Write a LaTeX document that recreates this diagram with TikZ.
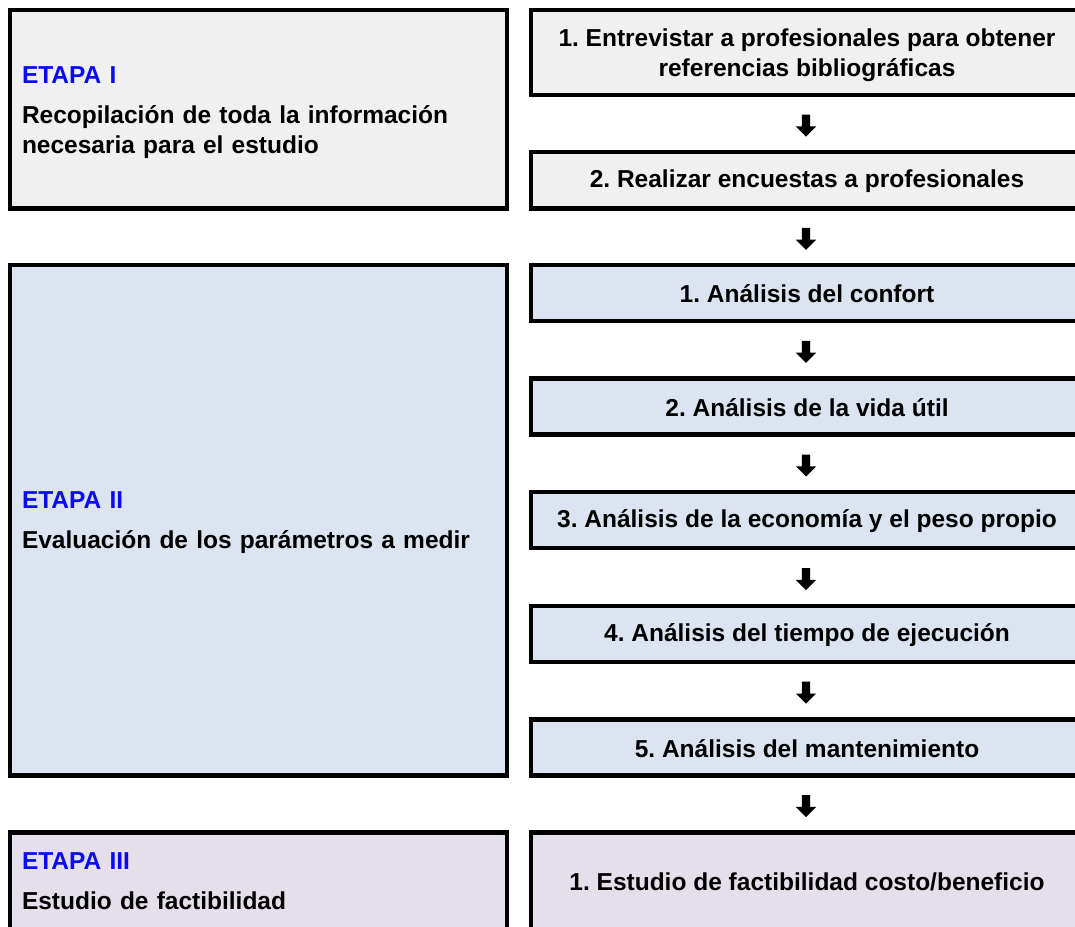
\documentclass[tikz,border=0pt]{standalone}
\usepackage{fontspec}
\setmainfont{Liberation Sans}
\usetikzlibrary{shapes.arrows}
\definecolor{fillI}{HTML}{F0F0F0}
\definecolor{fillII}{HTML}{DBE4F0}
\definecolor{fillIII}{HTML}{E4DFEB}
\definecolor{etapa}{HTML}{0A0AF5}
\frenchspacing
\tikzset{
  box/.style={draw=black, line width=4.5pt, rectangle, inner sep=0pt},
  txt/.style={inner sep=0pt, font=\bfseries\fontsize{24.5}{30}\selectfont},
  leftbox/.style={box, minimum width=497pt},
  rightbox/.style={box, minimum width=552pt},
  lefttxt/.style={txt, text width=473pt, align=left},
  righttxt/.style={txt, align=center},
  darr/.style={single arrow, fill=black, draw=none, shape border rotate=270,
    minimum height=22pt, inner sep=4pt, single arrow head extend=6pt,
    single arrow tip angle=90}
}
\begin{document}
\begin{tikzpicture}[x=1pt,y=-1pt]
\path[use as bounding box] (0,0) rectangle (1075,926);
\clip (0,0) rectangle (1075,926);
% left stage boxes
\node[leftbox, fill=fillI, minimum height=198.5pt] (s1) at (258.5,109.25) {};
\node[lefttxt] (s1t) at ([yshift=-3pt]s1.center)
  {{\color{etapa}ETAPA I}\\[10pt]Recopilación de toda la información\\necesaria para el estudio};
\node[leftbox, fill=fillII, minimum height=510.5pt] (s2) at (258.5,520.25) {};
\node[lefttxt] (s2t) at ([yshift=-2pt]s2.center)
  {{\color{etapa}ETAPA II}\\[10pt]Evaluación de los parámetros a medir};
\node[leftbox, fill=fillIII, minimum height=97.5pt] (s3) at (258.5,881.25) {};
\node[lefttxt] (s3t) at ([yshift=0pt]s3.center)
  {{\color{etapa}ETAPA III}\\[10pt]Estudio de factibilidad};
% right step boxes
\node[rightbox, fill=fillI, minimum height=85pt] (r1) at (807,52.5) {};
\node[righttxt] (r1t) at ([yshift=-3pt]r1.center)
  {1. Entrevistar a profesionales para obtener\\referencias bibliográficas};
\node[rightbox, fill=fillI, minimum height=56.5pt] (r2) at (807,180.25) {};
\node[righttxt] (r2t) at ([yshift=-1pt]r2.center) {2. Realizar encuestas a profesionales};
\node[rightbox, fill=fillII, minimum height=56pt] (r3) at (807,293) {};
\node[righttxt] (r3t) at ([yshift=-1pt]r3.center) {1. Análisis del confort};
\node[rightbox, fill=fillII, minimum height=56pt] (r4) at (807,406.6) {};
\node[righttxt] (r4t) at ([yshift=-1pt]r4.center) {2. Análisis de la vida útil};
\node[rightbox, fill=fillII, minimum height=56pt] (r5) at (807,520.2) {};
\node[righttxt] (r5t) at ([yshift=-1pt]r5.center) {3. Análisis de la economía y el peso propio};
\node[rightbox, fill=fillII, minimum height=56pt] (r6) at (807,633.8) {};
\node[righttxt] (r6t) at ([yshift=-1pt]r6.center) {4. Análisis del tiempo de ejecución};
\node[rightbox, fill=fillII, minimum height=56pt] (r7) at (807,747.4) {};
\node[righttxt] (r7t) at ([yshift=-1pt]r7.center) {5. Análisis del mantenimiento};
\node[rightbox, fill=fillIII, minimum height=97.5pt] (r8) at (807,881.25) {};
\node[righttxt] (r8t) at ([yshift=-1pt]r8.center) {1. Estudio de factibilidad costo/beneficio};
% arrows
\foreach \a/\b/\n in {r1/r2/a1, r2/r3/a2, r3/r4/a3, r4/r5/a4, r5/r6/a5, r6/r7/a6, r7/r8/a7}{
  \path ([xshift=-1pt]\a.south) -- ([xshift=-1pt]\b.north) node[midway, darr] (\n) {};
}
\end{tikzpicture}
\end{document}
